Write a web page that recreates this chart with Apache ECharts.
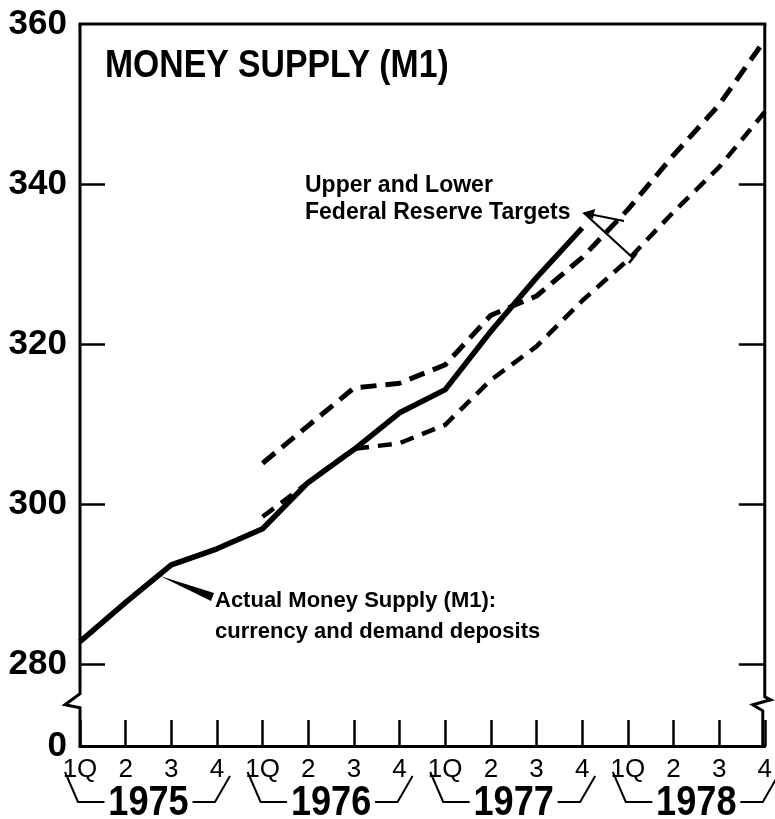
<!DOCTYPE html>
<html><head><meta charset="utf-8">
<script src="https://cdn.jsdelivr.net/npm/echarts@6/dist/echarts.min.js"></script>
<style>html,body{margin:0;padding:0;background:#fff}#c{width:775px;height:819px}</style>
</head><body><div id="c"></div>
<script>
// ---- data ----
const quarterLabels = ['1Q','2','3','4','1Q','2','3','4','1Q','2','3','4','1Q','2','3','4'];
const years = ['1975','1976','1977','1978'];
const actualM1 = [282.8, 287.7, 292.4, 294.4, 296.9, 302.7, 306.8, 311.4, 314.3, 321.6, 328.3, 334.5, null, null, null, null];
const upperTarget = [null, null, null, null, 305.1, 309.8, 314.5, 315.1, 317.4, 323.6, 326.0, 330.8, 336.8, 343.6, 349.9, 358.0];
const lowerTarget = [null, null, null, null, 298.4, 302.7, 306.9, 307.6, 309.9, 315.5, 319.7, 325.4, 330.5, 336.5, 342.1, 349.0];
const yTickValues = [280, 300, 320, 340];
const yLabelValues = [280, 300, 320, 340, 360];
const yMin = 269.75, yMax = 360; // bottom of broken axis (labelled 0)

const FONT = "'Liberation Sans', Arial, Helvetica, sans-serif";

const chart = echarts.init(document.getElementById('c'), null, {renderer: 'canvas'});
const pairs = arr => arr.map((v, i) => [i, v]).filter(p => p[1] != null);

chart.setOption({
  animation: false,
  backgroundColor: '#fff',
  grid: {left: 80, right: 7, top: 24, bottom: 73},
  xAxis: {
    type: 'value', min: 0, max: quarterLabels.length - 1, interval: 1,
    axisLine: {show: true, onZero: false, lineStyle: {color: '#000', width: 3}},
    axisTick: {show: true, inside: true, length: 26, lineStyle: {color: '#000', width: 2.5}},
    axisLabel: {formatter: v => quarterLabels[v] || '', fontSize: 26, color: '#000', margin: 11, fontFamily: FONT},
    splitLine: {show: false}
  },
  yAxis: [{
    type: 'value', min: yMin, max: yMax,
    axisLine: {show: false},
    axisTick: {show: true, inside: true, length: 25, customValues: yTickValues, lineStyle: {color: '#000', width: 2.5}},
    axisLabel: {customValues: [yMin].concat(yLabelValues), formatter: v => (v === yMin ? '0' : String(v)),
      fontSize: 35, fontWeight: 'bold', color: '#000', margin: 13, fontFamily: FONT},
    splitLine: {show: false}
  }, {
    type: 'value', min: yMin, max: yMax, position: 'right',
    axisLine: {show: false},
    axisTick: {show: true, inside: true, length: 26, customValues: yTickValues, lineStyle: {color: '#000', width: 2.5}},
    axisLabel: {show: false},
    splitLine: {show: false}
  }],
  series: [{
    name: 'Actual Money Supply (M1)', type: 'line', data: pairs(actualM1), symbol: 'none',
    lineStyle: {color: '#000', width: 5.5, join: 'round'}, z: 3
  }, {
    name: 'Upper Target', type: 'line', data: pairs(upperTarget), symbol: 'none',
    lineStyle: {color: '#000', width: 5, type: [16, 9]}, z: 2
  }, {
    name: 'Lower Target', type: 'line', data: pairs(lowerTarget), symbol: 'none',
    lineStyle: {color: '#000', width: 4.5, type: [14, 9]}, z: 2
  }]
});

// ---- decorations positioned from the axes ----
const P = (x, y) => chart.convertToPixel({xAxisIndex: 0, yAxisIndex: 0}, [x, y]);
const [xL, yTop] = P(0, yMax);
const [xR, yBot] = P(15, yMin);
const yBreak = P(0, 274.9)[1];
const ls = {stroke: '#000', lineWidth: 3, fill: null, lineJoin: 'miter'};
const g = [];
// top border
g.push({type: 'line', shape: {x1: xL - 1.5, y1: yTop, x2: xR + 1.5, y2: yTop}, style: ls});
// left axis with break zigzag
g.push({type: 'polyline', shape: {points: [[xL, yTop], [xL, yBreak - 11], [xL - 15, yBreak], [xL, yBreak + 3], [xL, yBot + 1.5]]}, style: ls});
// right border with break zigzag
g.push({type: 'polyline', shape: {points: [[xR, yTop], [xR, yBreak - 8], [xR + 6, yBreak - 5], [xR - 12, yBreak], [xR - 2, yBreak + 6], [xR - 2, yBot + 1.5]]}, style: ls});

// year labels with brackets
const yb = yBot + 56;
years.forEach((yr, k) => {
  const x0 = P(4 * k, yMin)[0], x3 = P(4 * k + 3, yMin)[0];
  const xc = (x0 + x3) / 2;
  const hw = 44;
  g.push({type: 'polyline', shape: {points: [[x0 - 15, yBot + 26], [x0 - 2, yb], [xc - hw, yb]]}, style: {stroke: '#000', lineWidth: 2, fill: null}});
  g.push({type: 'polyline', shape: {points: [[xc + hw, yb], [x3 - 2, yb], [x3 + 13, yBot + 30]]}, style: {stroke: '#000', lineWidth: 2, fill: null}});
  g.push({type: 'text', x: xc, y: yb + 1, scaleX: 0.86, style: {text: yr, fill: '#000', font: "bold 42px " + FONT, align: 'center', verticalAlign: 'middle'}});
});

// title
g.push({type: 'text', x: 105, y: 66, scaleX: 0.865, style: {text: 'MONEY SUPPLY (M1)', fill: '#000', font: "bold 39px " + FONT, align: 'left', verticalAlign: 'middle'}});

// target annotation
g.push({type: 'text', x: 305, y: 186, style: {text: 'Upper and Lower', fill: '#000', font: "bold 23px " + FONT, align: 'left', verticalAlign: 'middle'}});
g.push({type: 'text', x: 305, y: 213, style: {text: 'Federal Reserve Targets', fill: '#000', font: "bold 23px " + FONT, align: 'left', verticalAlign: 'middle'}});
const aStart = [584, 213];
const upPt = [624, 221], loPt = [633, 258];
g.push({type: 'line', shape: {x1: aStart[0], y1: aStart[1], x2: upPt[0], y2: upPt[1]}, style: {stroke: '#000', lineWidth: 2.2}});
g.push({type: 'line', shape: {x1: aStart[0], y1: aStart[1], x2: loPt[0], y2: loPt[1]}, style: {stroke: '#000', lineWidth: 2.2}});
g.push({type: 'polygon', shape: {points: [[582, 213], [595, 209], [593, 219]]}, style: {fill: '#000'}});
g.push({type: 'line', shape: {x1: loPt[0] - 4, y1: loPt[1] + 5, x2: loPt[0] + 4, y2: loPt[1] - 5}, style: {stroke: '#000', lineWidth: 2.5}});

// actual annotation
g.push({type: 'text', x: 215, y: 601, style: {text: 'Actual Money Supply (M1):', fill: '#000', font: "bold 22px " + FONT, align: 'left', verticalAlign: 'middle'}});
g.push({type: 'text', x: 215, y: 632, style: {text: 'currency and demand deposits', fill: '#000', font: "bold 22px " + FONT, align: 'left', verticalAlign: 'middle'}});
g.push({type: 'polygon', shape: {points: [[160, 576], [214, 593], [211, 601]]}, style: {fill: '#000'}});

chart.setOption({graphic: g});
</script></body></html>
